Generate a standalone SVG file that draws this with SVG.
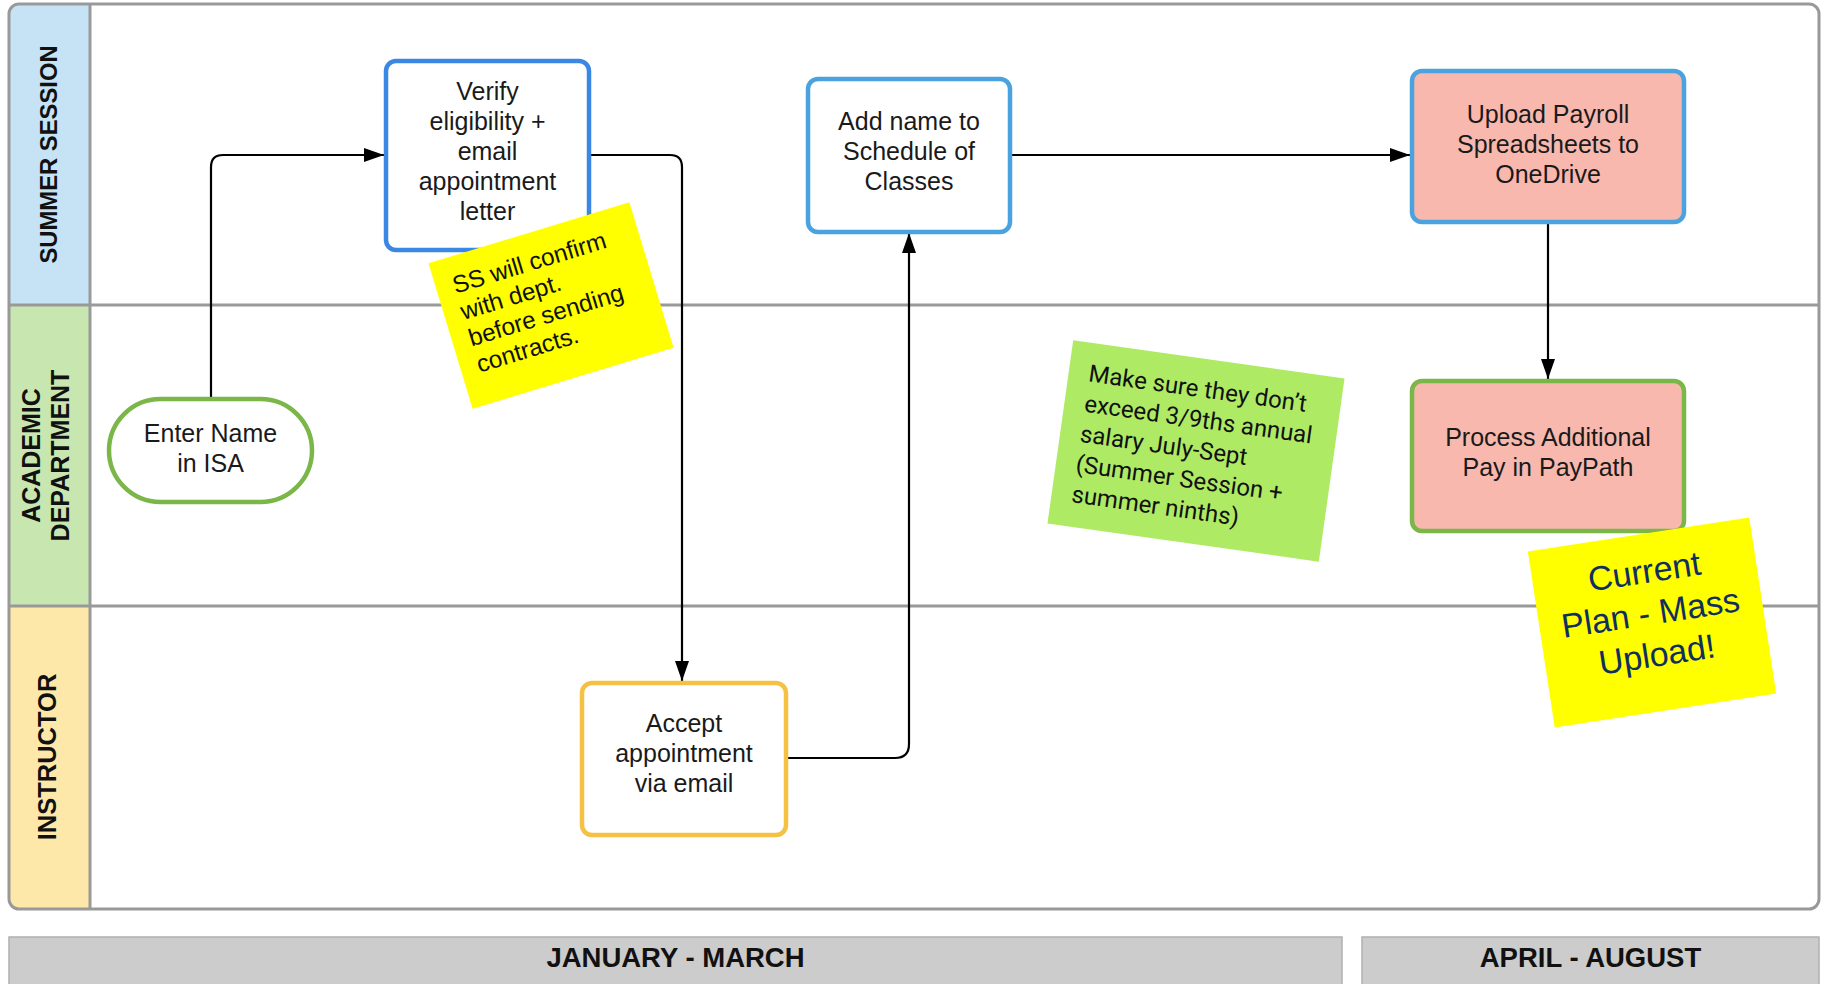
<svg xmlns="http://www.w3.org/2000/svg" width="1825" height="984" viewBox="0 0 1825 984">
<style>
.lane{font-family:"Liberation Sans",Arial,sans-serif;font-weight:bold;font-size:24.5px;fill:#111;text-anchor:middle}
.node{fill:#fff;stroke-width:4.5}
.nt{font-family:"Liberation Sans",Arial,sans-serif;font-size:25px;fill:#1a1a1a;text-anchor:middle}
.conn{fill:none;stroke:#000;stroke-width:2.2}
.bar{fill:#cccccc;stroke:#b0b0b0;stroke-width:1.5}
.bt{font-family:"Liberation Sans",Arial,sans-serif;font-weight:bold;font-size:27.5px;fill:#111;text-anchor:middle}
</style>
<defs>
<clipPath id="frameClip"><rect x="9" y="4" width="1810" height="905" rx="10"/></clipPath>
<marker id="arr" markerUnits="userSpaceOnUse" markerWidth="21" markerHeight="15" refX="20" refY="7" orient="auto">
<path d="M0,0 L20,7 L0,14 z" fill="#000"/>
</marker>
</defs>
<rect width="1825" height="984" fill="#fff"/>
<g id="lanes">
<g clip-path="url(#frameClip)">
<rect x="9" y="4" width="81" height="301" fill="#c6e3f6"/>
<rect x="9" y="305" width="81" height="301" fill="#c8e6b0"/>
<rect x="9" y="606" width="81" height="303" fill="#fde8a9"/>
</g>
<line x1="9" y1="305" x2="1819" y2="305" stroke="#999" stroke-width="3"/>
<line x1="9" y1="606" x2="1819" y2="606" stroke="#999" stroke-width="3"/>
<line x1="90" y1="4" x2="90" y2="909" stroke="#999" stroke-width="3"/>
<rect x="9" y="4" width="1810" height="905" rx="10" fill="none" stroke="#999" stroke-width="3"/>
<text class="lane" transform="translate(57,154.5) rotate(-90)" style="font-size:23.8px">SUMMER SESSION</text>
<text class="lane" transform="translate(40,455.5) rotate(-90)" style="font-size:25px">ACADEMIC</text>
<text class="lane" transform="translate(69,455.5) rotate(-90)" style="font-size:25px">DEPARTMENT</text>
<text class="lane" transform="translate(56,757) rotate(-90)" style="font-size:25.5px">INSTRUCTOR</text>
</g>
<g id="connectors">
<path class="conn" d="M211,399 V167 Q211,155 223,155 H384" marker-end="url(#arr)"/>
<path class="conn" d="M589,155 H670 Q682,155 682,167 V681" marker-end="url(#arr)"/>
<path class="conn" d="M786,758 H895 Q909,758 909,744 V233" marker-end="url(#arr)"/>
<path class="conn" d="M1010,155 H1410" marker-end="url(#arr)"/>
<path class="conn" d="M1548,222 V379" marker-end="url(#arr)"/>
</g>
<g id="node-enter-name">
<rect class="node" x="109" y="399" width="203" height="103" rx="51.5" stroke="#7ab648"/>
<text class="nt" x="210.5" y="441.5">Enter Name</text>
<text class="nt" x="210.5" y="472">in ISA</text>
</g>
<g id="node-verify">
<rect class="node" x="386" y="61" width="203" height="189" rx="10" stroke="#3a87e4"/>
<text class="nt" x="487.5" y="100">Verify</text>
<text class="nt" x="487.5" y="130">eligibility +</text>
<text class="nt" x="487.5" y="160">email</text>
<text class="nt" x="487.5" y="190">appointment</text>
<text class="nt" x="487.5" y="220">letter</text>
</g>
<g id="node-add-name">
<rect class="node" x="808" y="79" width="202" height="153" rx="10" stroke="#4aa3df"/>
<text class="nt" x="909" y="130">Add name to</text>
<text class="nt" x="909" y="160">Schedule of</text>
<text class="nt" x="909" y="190">Classes</text>
</g>
<g id="node-upload">
<rect class="node" x="1412" y="71" width="272" height="151" rx="10" stroke="#4aa3df" style="fill:#f9b8ae"/>
<text class="nt" x="1548" y="123">Upload Payroll</text>
<text class="nt" x="1548" y="153">Spreadsheets to</text>
<text class="nt" x="1548" y="183">OneDrive</text>
</g>
<g id="node-process">
<rect class="node" x="1412" y="381" width="272" height="150" rx="10" stroke="#7ab648" style="fill:#f9b8ae"/>
<text class="nt" x="1548" y="446">Process Additional</text>
<text class="nt" x="1548" y="476">Pay in PayPath</text>
</g>
<g id="node-accept">
<rect class="node" x="582" y="683" width="204" height="152" rx="10" stroke="#f4c144"/>
<text class="nt" x="684" y="732">Accept</text>
<text class="nt" x="684" y="762">appointment</text>
<text class="nt" x="684" y="792">via email</text>
</g>
<g id="note-ss" transform="translate(551,305.5) rotate(-16.9)">
<rect x="-105" y="-76" width="210" height="152" fill="#ffff00"/>
<g font-family="'Liberation Sans',Arial,sans-serif" font-size="24.3" fill="#111">
<text x="-88" y="-39">SS will confirm</text>
<text x="-88" y="-11.5">with dept.</text>
<text x="-88" y="16">before sending</text>
<text x="-88" y="43.5">contracts.</text>
</g>
</g>
<g id="note-salary" transform="translate(1196,451) rotate(8)">
<rect x="-137" y="-92.5" width="274" height="185" fill="#aeea64"/>
<g font-family="Roboto,'Liberation Sans',sans-serif" font-size="24" fill="#111">
<text x="-117" y="-54">Make sure they don’t</text>
<text x="-117" y="-23.5">exceed 3/9ths annual</text>
<text x="-117" y="7">salary July-Sept</text>
<text x="-117" y="37.5">(Summer Session +</text>
<text x="-117" y="68">summer ninths)</text>
</g>
</g>
<g id="note-plan" transform="translate(1652,622.5) rotate(-8.7)">
<rect x="-112" y="-89" width="224" height="178" fill="#ffff00"/>
<g font-family="'Liberation Sans',Arial,sans-serif" font-size="34" fill="#0f2f5f" text-anchor="middle">
<text x="0" y="-40">Current</text>
<text x="0" y="2">Plan - Mass</text>
<text x="0" y="44">Upload!</text>
</g>
</g>
<g id="timeline">
<rect class="bar" x="9" y="937" width="1333" height="52"/>
<text class="bt" x="675.5" y="967">JANUARY - MARCH</text>
<rect class="bar" x="1362" y="937" width="457" height="52"/>
<text class="bt" x="1590.5" y="967">APRIL - AUGUST</text>
</g>
</svg>
